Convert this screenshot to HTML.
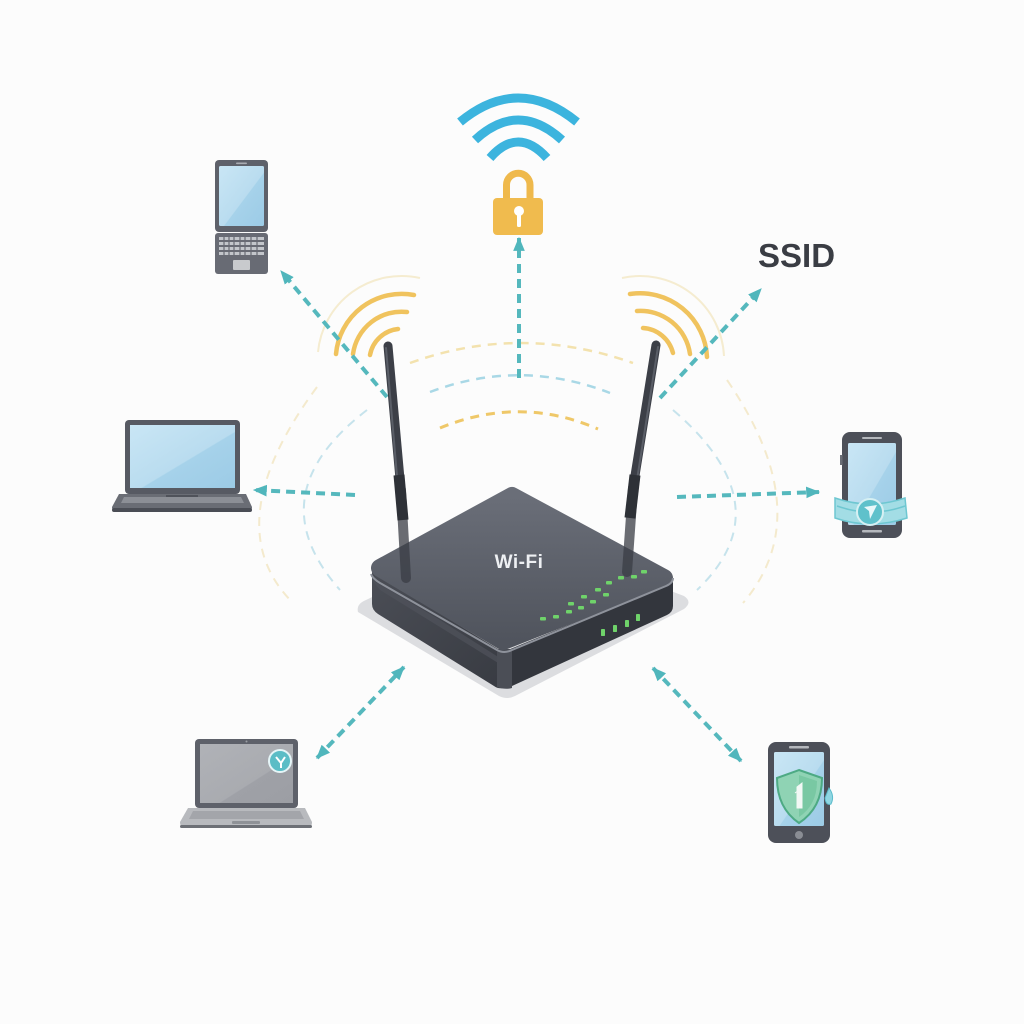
<!DOCTYPE html>
<html><head><meta charset="utf-8"><style>
html,body{margin:0;padding:0;background:#fcfcfc;}
svg{display:block;}
</style></head><body>
<svg width="1024" height="1024" viewBox="0 0 1024 1024" xmlns="http://www.w3.org/2000/svg">
<defs>
<marker id="ah" viewBox="0 0 12 10" refX="11" refY="5" markerWidth="14" markerHeight="12" markerUnits="userSpaceOnUse" orient="auto-start-reverse">
<path d="M0,0 L12,5 L0,10 z" fill="#50b6bc"/></marker>
<linearGradient id="topg" x1="0" y1="0" x2="0" y2="1"><stop offset="0" stop-color="#6a6e78"/><stop offset="1" stop-color="#50545d"/></linearGradient>
<linearGradient id="lface" x1="0" y1="0" x2="1" y2="1"><stop offset="0" stop-color="#4b4e56"/><stop offset="1" stop-color="#383b42"/></linearGradient>
<linearGradient id="scr" x1="0" y1="0" x2="1" y2="1"><stop offset="0" stop-color="#c9e6f5"/><stop offset="0.55" stop-color="#b9dcef"/><stop offset="0.56" stop-color="#a6d2ea"/><stop offset="1" stop-color="#9ccbe6"/></linearGradient>
<linearGradient id="scr2" x1="0" y1="0" x2="1" y2="1"><stop offset="0" stop-color="#b0b2b7"/><stop offset="0.6" stop-color="#a9abb0"/><stop offset="0.61" stop-color="#9fa1a7"/><stop offset="1" stop-color="#9c9ea4"/></linearGradient>
</defs>

<!-- faint background arcs -->
<g fill="none" stroke-width="2" stroke-dasharray="9 7">
<path d="M367,410 Q256,495 340,590" stroke="#c6e3ec"/>
<path d="M317,387 Q215,525 293,603" stroke="#f4eacd"/>
<path d="M673,410 Q785,506 697,590" stroke="#c6e3ec"/>
<path d="M727,380 Q819,514 743,603" stroke="#f4eacd"/>
<path d="M410,363 Q520,323 633,363" stroke="#f3e2ae" stroke-width="2.5"/>
<path d="M430,392 Q520,358 610,393" stroke="#a9d8e6" stroke-width="2.5"/>
<path d="M440,428 Q520,395 598,429" stroke="#efc869" stroke-width="3"/>
</g>
<g fill="none" stroke="#f5ecd0" stroke-width="2">
<path d="M318,352 A84,84 0 0 1 420,278"/>
<path d="M622,278 A84,84 0 0 1 724,356"/>
</g>

<!-- yellow wave arcs -->
<g fill="none" stroke="#f0c35e" stroke-width="4.5" stroke-linecap="round">
<path d="M370,355 A32,32 0 0 1 398,329"/>
<path d="M353,354 A49,49 0 0 1 407,312"/>
<path d="M336,354 A66,66 0 0 1 414,295"/>
<path d="M643,328 A33,33 0 0 1 673,353"/>
<path d="M637,311 A50,50 0 0 1 690,354"/>
<path d="M630,294 A67,67 0 0 1 707,357"/>
</g>

<!-- arrows -->
<g fill="none" stroke="#55b8bd" stroke-width="4" stroke-dasharray="9 6">
<line x1="519" y1="378" x2="519" y2="238" marker-end="url(#ah)"/>
<line x1="387" y1="397" x2="281" y2="271" marker-end="url(#ah)"/>
<line x1="355" y1="495" x2="254" y2="490" marker-end="url(#ah)"/>
<line x1="660" y1="398" x2="761" y2="289" marker-end="url(#ah)"/>
<line x1="677" y1="497" x2="819" y2="492" marker-end="url(#ah)"/>
<line x1="317" y1="758" x2="404" y2="667" marker-start="url(#ah)" marker-end="url(#ah)"/>
<line x1="653" y1="668" x2="741" y2="761" marker-start="url(#ah)" marker-end="url(#ah)"/>
</g>

<!-- top wifi + lock -->
<g fill="none" stroke="#3cb4de" stroke-width="9">
<path d="M460,122 Q518,74 577,122"/>
<path d="M475,140 Q518,100 562,140"/>
<path d="M490,158 Q518,126 547,158"/>
</g>
<path d="M506.5,200 V185 A11.75,11.75 0 0 1 530,185 V200" fill="none" stroke="#efb94c" stroke-width="7"/>
<rect x="493" y="198" width="50" height="37" rx="4" fill="#f0bb4e"/>
<circle cx="519" cy="211" r="5" fill="#fff"/>
<rect x="517" y="213" width="4" height="14" rx="1.5" fill="#fff"/>

<!-- SSID -->
<text x="758" y="267" font-family="Liberation Sans, Arial, sans-serif" font-weight="bold" font-size="33" fill="#3a3d44">SSID</text>

<!-- top-left laptop (vertical) -->
<rect x="215" y="160" width="53" height="72" rx="4" fill="#5e616a"/>
<rect x="219" y="166" width="45" height="60" rx="1.5" fill="url(#scr)"/>
<rect x="236" y="162.5" width="11" height="1.6" rx="0.8" fill="#a9acb2"/>
<rect x="215" y="233" width="53" height="41" rx="3" fill="#686b74"/>
<g fill="#c3c6cb">
<rect x="219" y="237" width="45" height="3"/>
<rect x="219" y="242" width="45" height="3"/>
<rect x="219" y="247" width="45" height="3"/>
<rect x="219" y="252" width="45" height="3"/>
</g>
<g stroke="#686b74" stroke-width="1.2">
<line x1="224" y1="236" x2="224" y2="256"/><line x1="229" y1="236" x2="229" y2="256"/>
<line x1="234" y1="236" x2="234" y2="256"/><line x1="240" y1="236" x2="240" y2="256"/>
<line x1="245" y1="236" x2="245" y2="256"/><line x1="251" y1="236" x2="251" y2="256"/>
<line x1="257" y1="236" x2="257" y2="256"/>
</g>
<rect x="233" y="260" width="17" height="10" rx="1" fill="#c8cacd"/>

<!-- left laptop -->
<rect x="125" y="420" width="115" height="74" rx="4" fill="#575a63"/>
<rect x="130" y="425" width="105" height="63" fill="url(#scr)"/>
<path d="M119,494 L246,494 L252,507 Q252,512 247,512 L117,512 Q112,512 112,507 Z" fill="#6a6d75"/>
<path d="M124,497 L241,497 L244,503 L121,503 Z" fill="#8c8f96"/>
<rect x="166" y="495" width="32" height="2" fill="#4f525a"/>
<rect x="112" y="508" width="140" height="4" rx="2" fill="#4a4d55"/>

<!-- right phone -->
<rect x="842" y="432" width="60" height="106" rx="8" fill="#4d5059"/>
<rect x="848" y="443" width="48" height="82" rx="1.5" fill="url(#scr)"/>
<rect x="862" y="437" width="20" height="2" rx="1" fill="#b5b8bd"/>
<rect x="862" y="530" width="20" height="2.5" rx="1" fill="#b5b8bd"/>
<rect x="840" y="455" width="2.5" height="10" fill="#6b6e76"/>
<path d="M835,498 Q870,510 905,498 L907,518 Q870,530 835,518 Z" fill="#a3dde5" stroke="#6ec7d1" stroke-width="1.5"/>
<path d="M837,506 Q855,512 862,511 M878,511 Q888,512 905,506" stroke="#6ec7d1" stroke-width="1.5" fill="none"/>
<circle cx="870" cy="512" r="13" fill="#5fc1cb" stroke="#d6f0f3" stroke-width="2"/>
<path d="M864,507 L877,505 L870,519 L869,511 Z" fill="#e9f8fa"/>

<!-- bottom-left laptop -->
<rect x="195" y="739" width="103" height="69" rx="4" fill="#5e616a"/>
<rect x="200" y="744" width="93" height="59" fill="url(#scr2)"/>
<circle cx="246.5" cy="741.5" r="1" fill="#9a9da3"/>
<circle cx="280" cy="761" r="11" fill="#5bbdc6" stroke="#e5f5f7" stroke-width="2"/>
<path d="M276,757 L281,763 L285,757 M281,763 L281,768" stroke="#ffffff" stroke-width="2" fill="none"/>
<path d="M188,808 L305,808 L312,822 Q312,828 306,828 L186,828 Q180,828 180,822 Z" fill="#b8babe"/>
<path d="M193,811 L300,811 L304,819 L189,819 Z" fill="#a3a5aa"/>
<rect x="232" y="821" width="28" height="3" rx="1" fill="#8f9297"/>
<rect x="180" y="825" width="132" height="3" rx="1.5" fill="#6d7076"/>

<!-- bottom-right phone -->
<rect x="768" y="742" width="62" height="101" rx="8" fill="#4d5059"/>
<rect x="774" y="752" width="50" height="74" rx="1.5" fill="url(#scr)"/>
<rect x="789" y="746" width="20" height="2.5" rx="1" fill="#b5b8bd"/>
<circle cx="799" cy="835" r="4" fill="#8a8d94"/>
<path d="M799,770 L822,778 Q822,808 799,823 Q777,808 777,778 Z" fill="#8fd3b4" stroke="#4daa84" stroke-width="2"/>
<path d="M799,775 L817,781 Q817,805 799,817 Z" fill="#79c8a3"/>
<path d="M797,787 L802,783 L802,808 L797,808 Z M795,793 L799,790" fill="#f2f8f5" stroke="#f2f8f5" stroke-width="1"/>
<path d="M829,788 Q835,796 831,804 Q826,806 825,798 Z" fill="#8fd6e2" stroke="#5cbccb" stroke-width="1"/>

<!-- router shadow -->
<path d="M358,612 Q356,604 366,600 L510,530 L684,596 Q693,602 684,609 L515,696 Q507,700 499,696 Z" fill="#dcdde0"/>
<!-- router body sides -->
<path d="M372,572 L503,652 L503,688 Q498,689 494,686 L378,614 Q372,610 372,604 Z" fill="url(#lface)"/>
<path d="M372,580 L440,620 L503,660 L503,666 L380,590 Z" fill="#50535b" opacity="0.7"/>
<path d="M503,652 L673,582 L673,606 Q673,612 667,615 L512,686 Q507,689 503,688 Z" fill="#33363d"/>
<path d="M497,649 L512,649 L512,688 Q505,690 497,687 Z" fill="#4b4e56"/>
<!-- router top face -->
<path d="M512,496 L380,568 L503,641 L664,578 Z" fill="url(#topg)" stroke="url(#topg)" stroke-width="18" stroke-linejoin="round"/>
<path d="M371,574 Q372,578 380,583 L497,650 Q504,654 512,650 L666,586 Q673,583 673,578" fill="none" stroke="#8e929b" stroke-width="2"/>
<!-- LEDs -->
<g fill="#6fd36a">
<rect x="568" y="602" width="6" height="3.5" rx="1"/>
<rect x="581" y="595" width="6" height="3.5" rx="1"/>
<rect x="595" y="588" width="6" height="3.5" rx="1"/>
<rect x="606" y="581" width="6" height="3.5" rx="1"/>
<rect x="618" y="576" width="6" height="3.5" rx="1"/>
<rect x="631" y="575" width="6" height="3.5" rx="1"/>
<rect x="641" y="570" width="6" height="3.5" rx="1"/>
<rect x="540" y="617" width="6" height="3.5" rx="1"/>
<rect x="553" y="615" width="6" height="3.5" rx="1"/>
<rect x="566" y="610" width="6" height="3.5" rx="1"/>
<rect x="578" y="606" width="6" height="3.5" rx="1"/>
<rect x="590" y="600" width="6" height="3.5" rx="1"/>
<rect x="603" y="593" width="6" height="3.5" rx="1"/>
</g>
<g fill="#6fd36a">
<rect x="601" y="629" width="4" height="7" rx="0.8"/>
<rect x="613" y="625" width="4" height="7" rx="0.8"/>
<rect x="625" y="620" width="4" height="7" rx="0.8"/>
<rect x="636" y="614" width="4" height="7" rx="0.8"/>
</g>
<text x="519" y="568" text-anchor="middle" font-family="Liberation Sans, Arial, sans-serif" font-weight="bold" font-size="19" fill="#eef0f3" letter-spacing="0.5">Wi-Fi</text>

<!-- antennas -->
<g stroke-linecap="round">
<line x1="401" y1="490" x2="406" y2="578" stroke="#3a3d45" stroke-width="10" opacity="0.75"/>
<line x1="388" y1="346" x2="401" y2="490" stroke="#3c3f47" stroke-width="9"/>
<line x1="386" y1="348" x2="398" y2="488" stroke="#5a5e67" stroke-width="2"/>
<line x1="399" y1="475" x2="403" y2="520" stroke="#2e3137" stroke-width="11" stroke-linecap="butt"/>
<line x1="633" y1="488" x2="627" y2="572" stroke="#3a3d45" stroke-width="10" opacity="0.75"/>
<line x1="656" y1="345" x2="633" y2="488" stroke="#3c3f47" stroke-width="9"/>
<line x1="658" y1="347" x2="636" y2="486" stroke="#5a5e67" stroke-width="2"/>
<line x1="635" y1="475" x2="630" y2="518" stroke="#2e3137" stroke-width="11" stroke-linecap="butt"/>
</g>
</svg>
</body></html>
